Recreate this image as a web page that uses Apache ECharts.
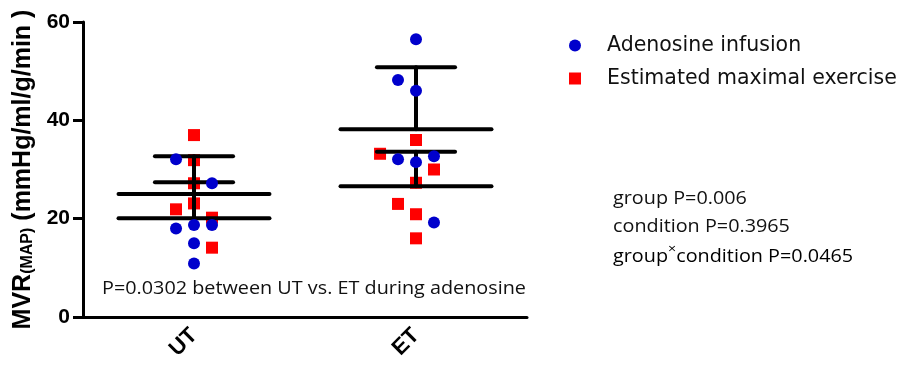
<!DOCTYPE html>
<html>
<head>
<meta charset="utf-8">
<script src="https://cdn.jsdelivr.net/npm/echarts@6/dist/echarts.min.js"></script>
<style>
html,body{margin:0;padding:0;background:#fff;}
#chart{width:902px;height:367px;}
</style>
</head>
<body>
<div id="chart"></div>
<script>
// ---- data ----
var categories = ['UT', 'ET'];
var seriesNames = ['Adenosine infusion', 'Estimated maximal exercise'];
var yTicks = [0, 20, 40, 60];

// individual points per group (values) and their jitter column (-2..2)
var utAdenosine       = [32.1, 27.2, 18.0, 18.7, 18.7, 15.0, 10.9];
var utAdenosineCol    = [-1, 1, -1, 0, 1, 0, 0];
var etAdenosine       = [56.5, 48.2, 46.0, 32.1, 31.5, 32.7, 19.2];
var etAdenosineCol    = [0, -1, 0, -1, 0, 1, 1];
var utExercise        = [37.0, 31.9, 27.2, 21.9, 23.1, 20.2, 14.1];
var utExerciseCol     = [0, 0, 0, -1, 0, 1, 1];
var etExercise        = [36.0, 33.2, 30.0, 27.3, 23.0, 20.9, 16.0];
var etExerciseCol     = [0, -2, 1, 0, -1, 0, 0];

// mean and SD (upper bar) per category
var adenosineMean = [20.1, 38.2];
var adenosineSD   = [7.3, 12.6];
var exerciseMean  = [25.0, 26.6];
var exerciseSD    = [7.7, 7.0];

var yAxisTitleMain = 'MVR';
var yAxisTitleSub = '(MAP)';
var yAxisTitleUnit = ' (mmHg/ml/g/min )';
var noteBottom = 'P=0.0302 between UT vs. ET during adenosine';
var statLines = ['group P=0.006', 'condition P=0.3965', 'condition P=0.0465'];

// ---- build ----
var JIT = 0.081;
function pts(vals, cols, catIdx) {
  return vals.map(function (v, i) { return [catIdx + cols[i] * JIT, v]; });
}
var adenosinePts = pts(utAdenosine, utAdenosineCol, 0).concat(pts(etAdenosine, etAdenosineCol, 1));
var exercisePts = pts(utExercise, utExerciseCol, 0).concat(pts(etExercise, etExerciseCol, 1));

function barData(means, sds) {
  return means.map(function (m, i) { return [i, m, m + sds[i]]; });
}

function renderBars(params, api) {
  var ci = api.value(0);
  var m = api.value(1);
  var up = api.value(2);
  var pm = api.coord([ci, m]);
  var pu = api.coord([ci, up]);
  var band = api.size([1, 0])[0];
  var longHalf = band * 0.34;
  var capHalf = band * 0.176;
  var st = { stroke: '#000', lineWidth: 4, lineCap: 'round' };
  return {
    type: 'group',
    children: [
      { type: 'line', shape: { x1: pm[0] - longHalf, y1: pm[1], x2: pm[0] + longHalf, y2: pm[1] }, style: st },
      { type: 'line', shape: { x1: pu[0] - capHalf, y1: pu[1], x2: pu[0] + capHalf, y2: pu[1] }, style: st },
      { type: 'line', shape: { x1: pm[0], y1: pm[1], x2: pu[0], y2: pu[1] }, style: st }
    ]
  };
}

var chart = echarts.init(document.getElementById('chart'), null, { renderer: 'canvas' });

var option = {
  backgroundColor: '#fff',
  animation: false,
  grid: { left: 83, right: 375, top: 22, bottom: 50, containLabel: false },
  legend: {
    orient: 'vertical',
    left: 564,
    top: 30,
    itemWidth: 12,
    itemHeight: 12,
    itemGap: 12,
    data: [
      { name: seriesNames[0], icon: 'circle' },
      { name: seriesNames[1], icon: 'rect' }
    ],
    textStyle: { fontFamily: 'DejaVu Sans', fontSize: 20.5, color: '#111', padding: [0, 0, 0, 21] }
  },
  xAxis: [
    {
      type: 'category',
      data: categories,
      axisLine: { onZero: false, lineStyle: { color: '#000', width: 3 } },
      axisTick: { alignWithLabel: true, length: 9, lineStyle: { color: '#000', width: 3 } },
      axisLabel: { rotate: 45, margin: 15, color: '#000', fontFamily: 'Liberation Sans', fontWeight: 'bold', fontSize: 22 },
      splitLine: { show: false }
    },
    {
      type: 'value',
      min: -0.5,
      max: 1.5,
      show: false,
      splitLine: { show: false }
    }
  ],
  yAxis: {
    type: 'value',
    min: yTicks[0],
    max: yTicks[yTicks.length - 1],
    interval: yTicks[1] - yTicks[0],
    axisLine: { show: true, onZero: false, lineStyle: { color: '#000', width: 3 } },
    axisTick: { show: true, length: 10, lineStyle: { color: '#000', width: 3 } },
    axisLabel: { margin: 13, color: '#000', fontFamily: 'Liberation Sans', fontWeight: 'bold', fontSize: 21 },
    splitLine: { show: false },
    name: '{m|' + yAxisTitleMain + '}{s|' + yAxisTitleSub + '}{m|' + yAxisTitleUnit + '}',
    nameLocation: 'middle',
    nameRotate: 90,
    nameGap: 47,
    nameTextStyle: {
      rich: {
        m: { fontFamily: 'Liberation Sans', fontWeight: 'bold', fontSize: 25, color: '#000', lineHeight: 30, verticalAlign: 'bottom' },
        s: { fontFamily: 'Liberation Sans', fontWeight: 'bold', fontSize: 16, color: '#000', lineHeight: 16, verticalAlign: 'bottom' }
      }
    }
  },
  series: [
    {
      name: seriesNames[1],
      type: 'scatter',
      xAxisIndex: 1,
      symbol: 'rect',
      symbolSize: 12,
      itemStyle: { color: '#FF0000', opacity: 1 },
      data: exercisePts,
      z: 2
    },
    {
      type: 'custom',
      xAxisIndex: 0,
      renderItem: renderBars,
      data: barData(adenosineMean, adenosineSD),
      z: 3,
      silent: true
    },
    {
      type: 'custom',
      xAxisIndex: 0,
      renderItem: renderBars,
      data: barData(exerciseMean, exerciseSD),
      z: 3,
      silent: true
    },
    {
      name: seriesNames[0],
      type: 'scatter',
      xAxisIndex: 1,
      symbol: 'circle',
      symbolSize: 12,
      itemStyle: { color: '#0000CC', opacity: 1 },
      data: adenosinePts,
      z: 4
    }
  ],
  graphic: [
    {
      type: 'text', x: 102, y: 280, scaleX: 1.1,
      style: { text: noteBottom, font: '18px "Open Sans"', fill: '#111' }
    },
    {
      type: 'text', x: 613, y: 190, scaleX: 1.1,
      style: { text: statLines[0], font: '18px "Open Sans"', fill: '#111' }
    },
    {
      type: 'text', x: 613, y: 218, scaleX: 1.1,
      style: { text: statLines[1], font: '18px "Open Sans"', fill: '#111' }
    },
    {
      type: 'text', x: 613, y: 240, scaleX: 1.1,
      style: {
        text: '{a|group}{x|×}{a|' + statLines[2] + '}',
        rich: {
          a: { fontFamily: 'Open Sans', fontSize: 18, color: '#111', lineHeight: 26, verticalAlign: 'bottom' },
          x: { fontFamily: 'Open Sans', fontSize: 13, color: '#111', lineHeight: 26, verticalAlign: 'top', padding: [3, 0, 0, 0] }
        }
      }
    }
  ]
};
chart.setOption(option);
</script>
</body>
</html>
